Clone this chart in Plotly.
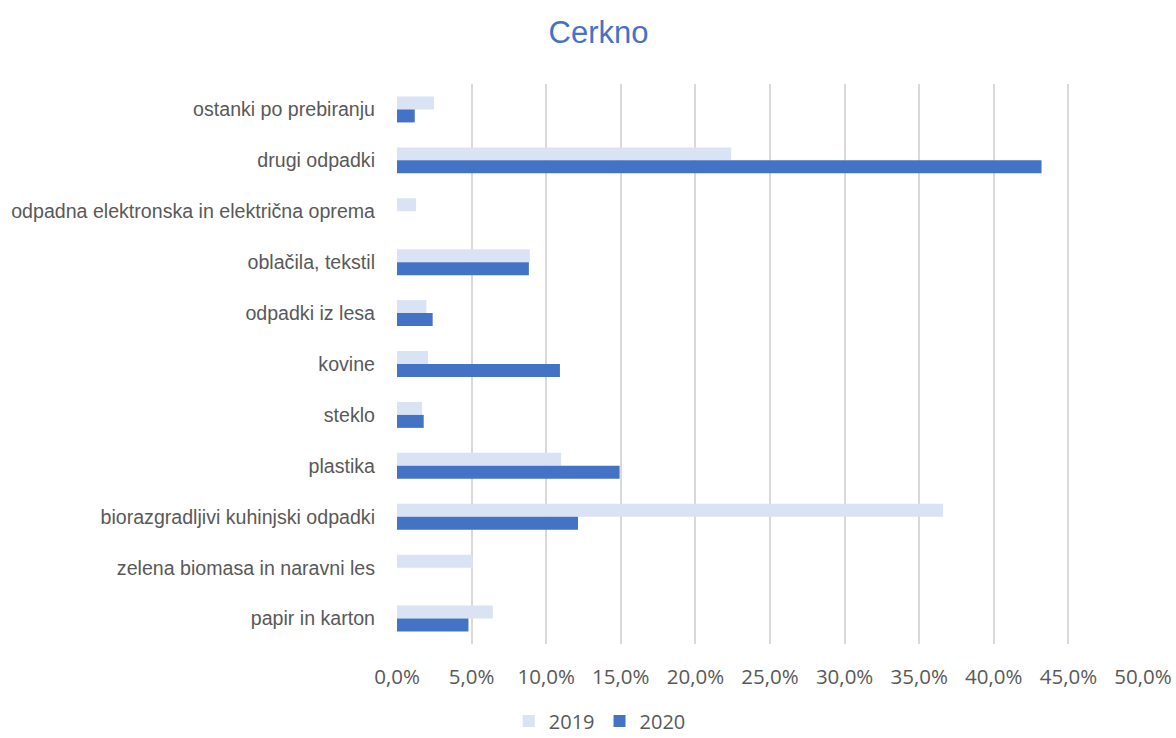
import plotly.graph_objects as go

# Waste categories, listed top to bottom
categories = [
    "ostanki po prebiranju",
    "drugi odpadki",
    "odpadna elektronska in električna oprema",
    "oblačila, tekstil",
    "odpadki iz lesa",
    "kovine",
    "steklo",
    "plastika",
    "biorazgradljivi kuhinjski odpadki",
    "zelena biomasa in naravni les",
    "papir in karton",
]

# Share of each category (fractions)
share_2019 = [0.0248, 0.224, 0.0128, 0.089, 0.0197, 0.0208, 0.0168, 0.110, 0.366, 0.0508, 0.0642]
share_2020 = [0.0119, 0.432, 0.0, 0.0884, 0.0239, 0.1092, 0.0179, 0.1492, 0.1213, 0.0, 0.0479]

x_ticks = [i * 0.05 for i in range(11)]

H = 738

fig = go.Figure()
fig.add_trace(go.Bar(
    y=categories, x=share_2019, name="2019", orientation="h",
    marker=dict(color="#DAE3F3", line=dict(width=0)),
))
fig.add_trace(go.Bar(
    y=categories, x=share_2020, name="2020", orientation="h",
    marker=dict(color="#4472C4", line=dict(width=0)),
))

fig.update_layout(
    width=1176, height=H,
    margin=dict(l=397, r=33, t=84, b=94, autoexpand=False),
    paper_bgcolor="white", plot_bgcolor="white",
    separators=", ",
    barmode="group", bargap=0.49, bargroupgap=0,
    title=dict(
        text="Cerkno", x=0.509, xanchor="center", xref="container",
        y=1 - 32 / H, yref="container", yanchor="middle",
        font=dict(family="Liberation Sans", size=31, color="#4472C4"),
    ),
    font=dict(family="Liberation Sans", color="#595959"),
    showlegend=True,
    legend=dict(
        orientation="h", x=0.51, xref="container", xanchor="center",
        y=17 / H, yref="container", yanchor="middle",
        font=dict(family="Open Sans", size=20, color="#595959"),
        itemwidth=30, traceorder="normal",
    ),
)

fig.update_xaxes(
    range=[0, 0.5], tickvals=x_ticks, tickformat=".1%",
    showgrid=True, gridcolor="#D9D9D9", gridwidth=2,
    zeroline=False, showline=False, ticks="",
    ticklabelstandoff=18, automargin=False,
    tickfont=dict(family="Open Sans", size=20.5, color="#595959"),
    fixedrange=True,
)
fig.update_yaxes(
    autorange="reversed", showgrid=False, zeroline=False, showline=False,
    ticks="", ticklabelstandoff=21, automargin=False,
    tickfont=dict(family="Liberation Sans", size=19.6, color="#595959"),
    fixedrange=True,
)

fig.write_html("out.html")
